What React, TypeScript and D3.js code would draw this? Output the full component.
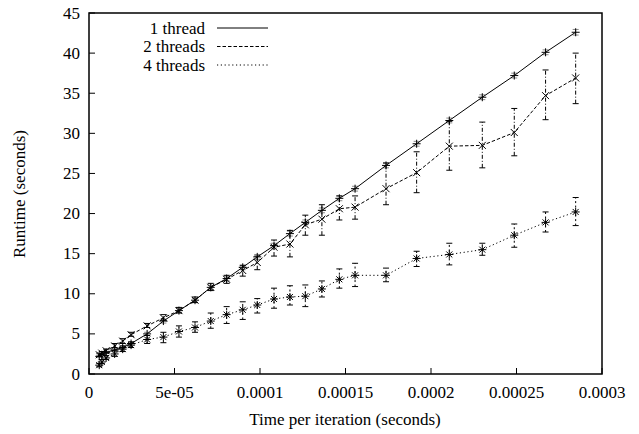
import React, { useRef, useEffect } from "react";
import * as d3 from "d3";

const WIDTH = 639;
const HEIGHT = 434;

// time per iteration (seconds)
const timePerIteration = [
  6e-6, 7.5e-6, 10e-6, 15e-6, 19.7e-6, 24.6e-6, 34e-6, 43.5e-6, 52.6e-6, 62e-6,
  71.2e-6, 80.5e-6, 89.9e-6, 98.4e-6, 108.2e-6, 117.5e-6, 126.5e-6, 136.2e-6,
  146.4e-6, 155.6e-6, 173.7e-6, 191.6e-6, 210.7e-6, 230e-6, 248.7e-6, 267e-6, 284.6e-6,
];

// runtime (seconds)
const oneThread = [
  2.2, 2.4, 2.7, 3.0, 3.3, 3.8, 5.0, 6.6, 7.9, 9.2, 10.8, 11.9, 13.3, 14.6, 16.0,
  17.5, 18.9, 20.4, 21.9, 23.1, 26.0, 28.7, 31.6, 34.5, 37.2, 40.1, 42.6,
];
const oneThreadErr = [
  0.15, 0.15, 0.15, 0.2, 0.2, 0.2, 0.2, 0.25, 0.25, 0.25, 0.25, 0.3, 0.3, 0.3, 0.3,
  0.3, 0.3, 0.3, 0.3, 0.3, 0.3, 0.3, 0.3, 0.3, 0.3, 0.3, 0.35,
];

const twoThreads = [
  2.4, 2.6, 2.9, 3.5, 4.1, 4.9, 6.0, 7.0, 7.9, 9.2, 10.8, 11.8, 12.9, 13.9, 15.8,
  16.2, 18.6, 19.3, 20.6, 20.8, 23.1, 25.1, 28.4, 28.5, 30.1, 34.7, 36.9,
];
const twoThreadsLow = [
  2.2, 2.4, 2.6, 3.3, 3.8, 4.7, 5.8, 6.7, 7.6, 8.9, 10.4, 11.3, 12.2, 13.0, 14.7,
  14.6, 17.3, 17.3, 19.2, 19.3, 21.1, 22.6, 25.4, 25.7, 27.2, 31.7, 33.7,
];
const twoThreadsHigh = [
  2.6, 2.8, 3.1, 3.8, 4.4, 5.2, 6.3, 7.4, 8.3, 9.6, 11.3, 12.3, 13.5, 14.7, 16.7,
  17.9, 19.8, 21.1, 22.2, 22.2, 26.3, 27.7, 31.5, 31.4, 33.1, 37.9, 40.0,
];

const fourThreads = [
  1.1, 1.5, 2.0, 2.5, 3.1, 3.6, 4.3, 4.6, 5.3, 5.8, 6.6, 7.4, 8.0, 8.6, 9.35,
  9.6, 9.7, 10.6, 11.8, 12.3, 12.3, 14.4, 14.9, 15.5, 17.3, 18.9, 20.2,
];
const fourThreadsLow = [
  0.9, 1.3, 1.8, 2.2, 2.8, 3.3, 3.8, 3.9, 4.6, 5.2, 5.7, 6.3, 6.8, 7.6, 8.2,
  8.6, 8.4, 9.6, 10.7, 10.9, 11.5, 13.4, 13.6, 14.8, 15.8, 17.7, 18.5,
];
const fourThreadsHigh = [
  1.3, 1.8, 2.3, 2.9, 3.5, 4.0, 4.8, 5.2, 6.0, 6.5, 7.6, 8.4, 9.0, 9.4, 10.7,
  11.0, 11.1, 11.6, 13.1, 13.8, 13.2, 15.3, 16.3, 16.3, 18.7, 20.2, 22.0,
];

const seriesNames = ["1 thread", "2 threads", "4 threads"];

const xTicks = [0, 5e-5, 1e-4, 1.5e-4, 2e-4, 2.5e-4, 3e-4];
const xTickLabels = ["0", "5e-05", "0.0001", "0.00015", "0.0002", "0.00025", "0.0003"];
const yTicks = [0, 5, 10, 15, 20, 25, 30, 35, 40, 45];

const FONT =
  "'Liberation Serif', 'Times New Roman', Times, Tinos, 'Nimbus Roman', 'Noto Serif', 'DejaVu Serif', FreeSerif, serif";
const FONT_SIZE = 17;

function RuntimeChart() {
  const svgRef = useRef(null);

  useEffect(() => {
    const svg = d3.select(svgRef.current);
    svg.selectAll("*").remove();

    const left = 89;
    const right = 602;
    const top = 13;
    const bottom = 374;

    const x = d3.scaleLinear().domain([0, 0.0003]).range([left, right]);
    const y = d3.scaleLinear().domain([0, 45]).range([bottom, top]);

    // ticks (inward, no mirror)
    const axisG = svg.append("g").attr("stroke", "#000").attr("stroke-width", 1);
    xTicks.forEach((t) => {
      axisG
        .append("line")
        .attr("x1", x(t))
        .attr("x2", x(t))
        .attr("y1", bottom)
        .attr("y2", bottom - 6);
    });
    yTicks.forEach((t) => {
      axisG
        .append("line")
        .attr("x1", left)
        .attr("x2", left + 6)
        .attr("y1", y(t))
        .attr("y2", y(t));
    });

    const textG = svg
      .append("g")
      .style("font-family", FONT)
      .style("font-size", FONT_SIZE + "px")
      .attr("fill", "#000");

    // tick labels
    textG
      .append("g")
      .selectAll("text")
      .data(xTicks)
      .enter()
      .append("text")
      .attr("x", (d) => x(d))
      .attr("y", bottom + 24)
      .attr("text-anchor", "middle")
      .text((d, i) => xTickLabels[i]);

    textG
      .append("g")
      .selectAll("text")
      .data(yTicks)
      .enter()
      .append("text")
      .attr("x", left - 9)
      .attr("y", (d) => y(d) + 5.5)
      .attr("text-anchor", "end")
      .text((d) => d);

    // axis titles
    textG
      .append("text")
      .attr("x", 345)
      .attr("y", 425)
      .attr("text-anchor", "middle")
      .text("Time per iteration (seconds)");

    textG
      .append("text")
      .attr("transform", `translate(25, 194) rotate(-90)`)
      .attr("text-anchor", "middle")
      .text("Runtime (seconds)");

    const series = [
      {
        name: seriesNames[0],
        values: oneThread,
        low: oneThread.map((v, i) => v - oneThreadErr[i]),
        high: oneThread.map((v, i) => v + oneThreadErr[i]),
        dash: null,
        barDash: null,
        barColor: "#888",
        marker: "plus",
      },
      {
        name: seriesNames[1],
        values: twoThreads,
        low: twoThreadsLow,
        high: twoThreadsHigh,
        dash: "3.5,2",
        barDash: "4,2,1,2",
        barColor: "#000",
        marker: "cross",
      },
      {
        name: seriesNames[2],
        values: fourThreads,
        low: fourThreadsLow,
        high: fourThreadsHigh,
        dash: "1.2,2.6",
        barDash: "2,2.5",
        barColor: "#000",
        marker: "star",
      },
    ];

    const line = d3
      .line()
      .x((d) => x(d[0]))
      .y((d) => y(d[1]));

    const plot = svg.append("g");

    series.forEach((s) => {
      const pts = timePerIteration.map((t, i) => [t, s.values[i]]);

      // error bars
      const bars = plot
        .append("g")
        .attr("stroke", s.barColor)
        .attr("stroke-width", 1)
        .attr("fill", "none");
      timePerIteration.forEach((t, i) => {
        const cx = x(t);
        const y0 = y(s.low[i]);
        const y1 = y(s.high[i]);
        bars
          .append("line")
          .attr("x1", cx)
          .attr("x2", cx)
          .attr("y1", y0)
          .attr("y2", y1)
          .attr("stroke-dasharray", s.barDash);
        [y0, y1].forEach((yy) => {
          bars
            .append("line")
            .attr("x1", cx - 3)
            .attr("x2", cx + 3)
            .attr("y1", yy)
            .attr("y2", yy);
        });
      });

      // line
      plot
        .append("path")
        .datum(pts)
        .attr("d", line)
        .attr("fill", "none")
        .attr("stroke", "#000")
        .attr("stroke-width", 1)
        .attr("stroke-dasharray", s.dash);

      // markers
      const mk = plot.append("g").attr("stroke", "#000").attr("stroke-width", 1);
      pts.forEach((p) => {
        const cx = x(p[0]);
        const cy = y(p[1]);
        const r = 4;
        if (s.marker === "plus" || s.marker === "star") {
          mk.append("line").attr("x1", cx - r).attr("x2", cx + r).attr("y1", cy).attr("y2", cy);
          mk.append("line").attr("x1", cx).attr("x2", cx).attr("y1", cy - r).attr("y2", cy + r);
        }
        if (s.marker === "cross" || s.marker === "star") {
          const q = s.marker === "star" ? 3 : 3.5;
          mk.append("line").attr("x1", cx - q).attr("x2", cx + q).attr("y1", cy - q).attr("y2", cy + q);
          mk.append("line").attr("x1", cx - q).attr("x2", cx + q).attr("y1", cy + q).attr("y2", cy - q);
        }
      });
    });

    // legend
    const legend = svg
      .append("g")
      .style("font-family", FONT)
      .style("font-size", FONT_SIZE + "px");
    series.forEach((s, i) => {
      const ly = 28 + i * 18.5;
      legend
        .append("text")
        .attr("x", 205)
        .attr("y", ly + 5.5)
        .attr("text-anchor", "end")
        .text(s.name);
      legend
        .append("line")
        .attr("x1", 217)
        .attr("x2", 268)
        .attr("y1", ly)
        .attr("y2", ly)
        .attr("stroke", "#000")
        .attr("stroke-width", 1)
        .attr("stroke-dasharray", s.dash);
    });

    // frame
    svg
      .append("rect")
      .attr("x", left)
      .attr("y", top)
      .attr("width", right - left)
      .attr("height", bottom - top)
      .attr("fill", "none")
      .attr("stroke", "#000")
      .attr("stroke-width", 1.5);
  }, []);

  return (
    <svg
      ref={svgRef}
      width={WIDTH}
      height={HEIGHT}
      style={{ position: "absolute", left: 0, top: 0, background: "#fff" }}
    ></svg>
  );
}

export default function App() {
  return <RuntimeChart />;
}
